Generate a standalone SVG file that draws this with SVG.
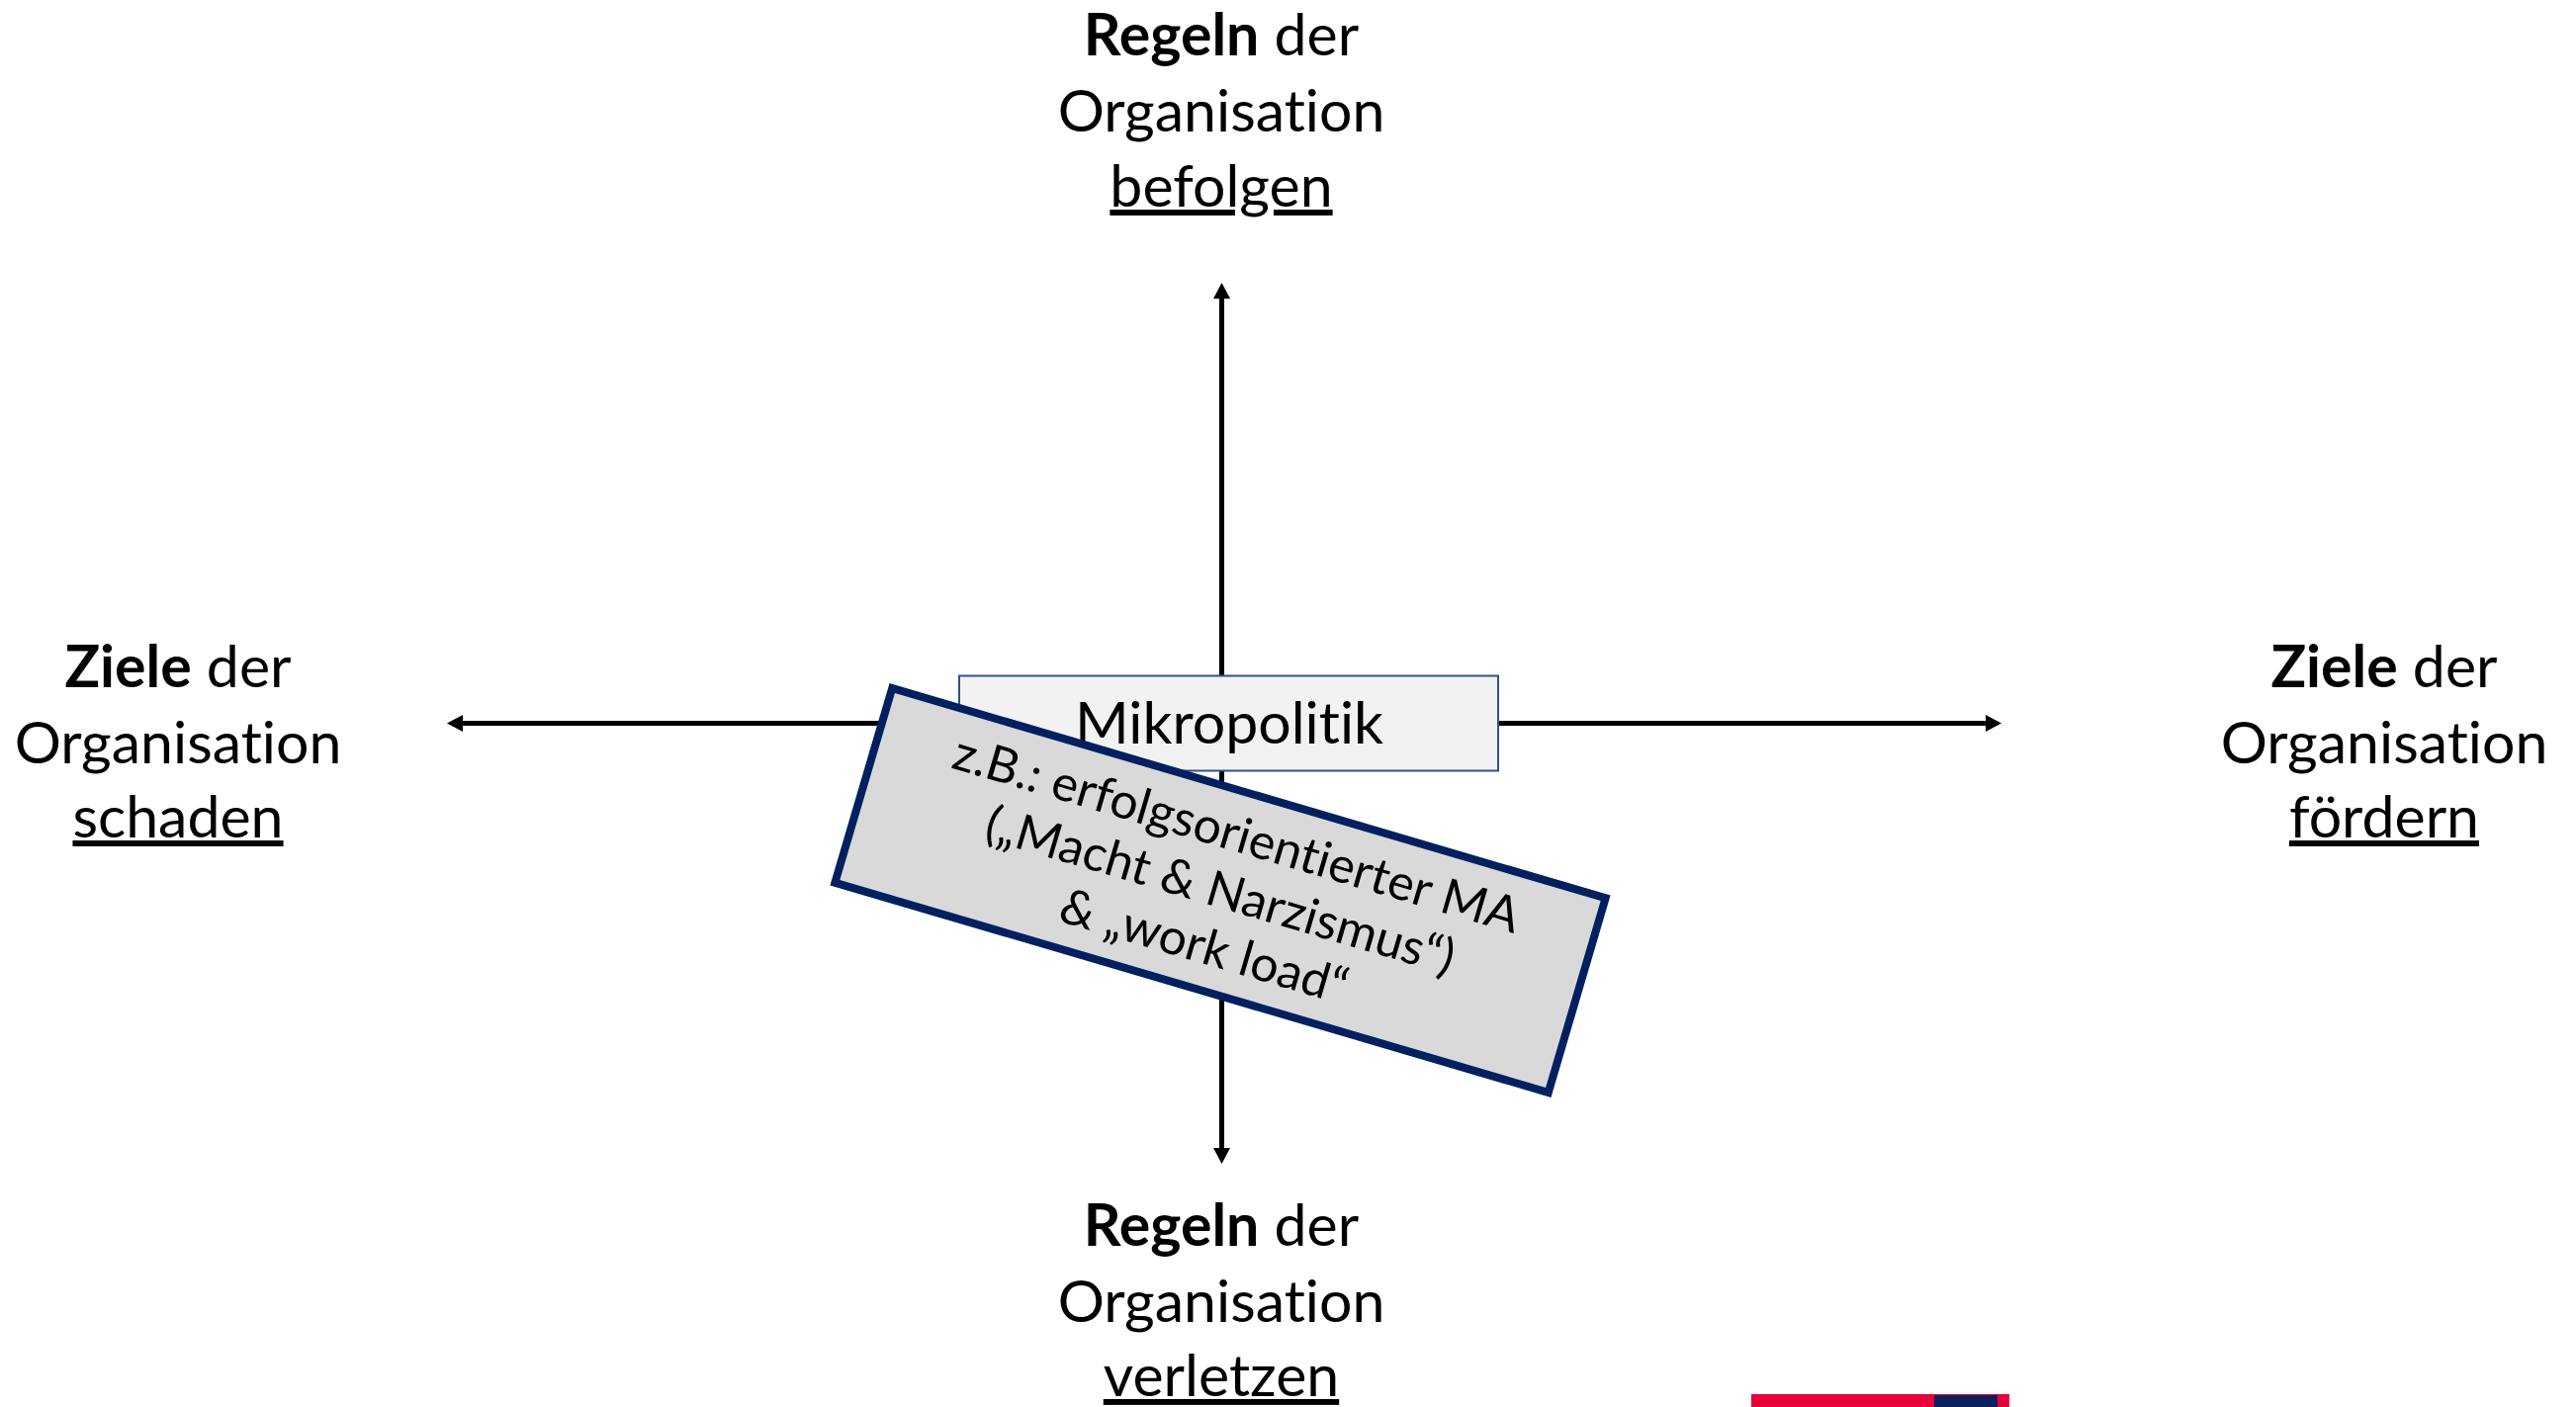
<svg xmlns="http://www.w3.org/2000/svg" width="2605" height="1423" viewBox="0 0 2605 1423">
<style>
.lbl{font-family:Lato,"Open Sans","Liberation Sans",sans-serif;font-size:59px;fill:#000;text-anchor:middle;font-variant-ligatures:none}
.b{font-weight:bold}
.u{text-decoration:underline;text-decoration-thickness:3px;text-decoration-skip-ink:none;text-underline-offset:9px}
.axis{stroke:#000;stroke-width:5;fill:none}
.mini{fill:#f2f2f2;stroke:#2f528f;stroke-width:2}
.ex{fill:#d9d9d9;stroke:#002060;stroke-width:8}
.ext{font-family:Lato,"Open Sans","Liberation Sans",sans-serif;font-size:50px;fill:#000;text-anchor:middle;font-variant-ligatures:none}
</style>
<defs>
<marker id="ah" markerUnits="userSpaceOnUse" markerWidth="17" markerHeight="17" refX="8" refY="8.5" orient="auto-start-reverse">
<path d="M0,0 L16,8.5 L0,17 Z" fill="#000"/>
</marker>
</defs>
<rect width="2605" height="1423" fill="#fff"/>
<g id="connectors">
<line class="axis" x1="460" y1="731.5" x2="2016" y2="731.5" marker-start="url(#ah)" marker-end="url(#ah)"/>
<line class="axis" x1="1235.5" y1="294" x2="1235.5" y2="1169" marker-start="url(#ah)" marker-end="url(#ah)"/>
</g>
<g id="top-label">
<text class="lbl" x="1235" y="56"><tspan class="b">Regeln</tspan> der</text>
<text class="lbl" x="1235" y="133">Organisation</text>
<text class="lbl" x="1235" y="209"><tspan class="u">befolgen</tspan></text>
</g>
<g id="bottom-label">
<text class="lbl" x="1235" y="1260"><tspan class="b">Regeln</tspan> der</text>
<text class="lbl" x="1235" y="1337">Organisation</text>
<text class="lbl" x="1235" y="1412"><tspan class="u">verletzen</tspan></text>
</g>
<g id="left-label">
<text class="lbl" x="180" y="695"><tspan class="b">Ziele</tspan> der</text>
<text class="lbl" x="180" y="772">Organisation</text>
<text class="lbl" x="180" y="847"><tspan class="u">schaden</tspan></text>
</g>
<g id="right-label">
<text class="lbl" x="2411" y="695"><tspan class="b">Ziele</tspan> der</text>
<text class="lbl" x="2411" y="772">Organisation</text>
<text class="lbl" x="2411" y="847"><tspan class="u">fördern</tspan></text>
</g>
<g id="mikropolitik">
<rect class="mini" x="970" y="683.5" width="545" height="96"/>
<text class="lbl" x="1243" y="752">Mikropolitik</text>
</g>
<g id="example" transform="translate(1234 900.5) rotate(16.4)">
<rect class="ex" x="-376" y="-102.5" width="752" height="205"/>
<text class="ext" x="0" y="-42">z.B.: erfolgsorientierter MA</text>
<text class="ext" x="0" y="17">(„Macht &amp; Narzismus“)</text>
<text class="ext" x="0" y="76">&amp; „work load“</text>
</g>
<g id="footer-bar">
<rect x="1771" y="1410" width="261" height="13" fill="#e8003a"/>
<rect x="1956" y="1411" width="64" height="12" fill="#0b1f5c"/>
</g>
</svg>
